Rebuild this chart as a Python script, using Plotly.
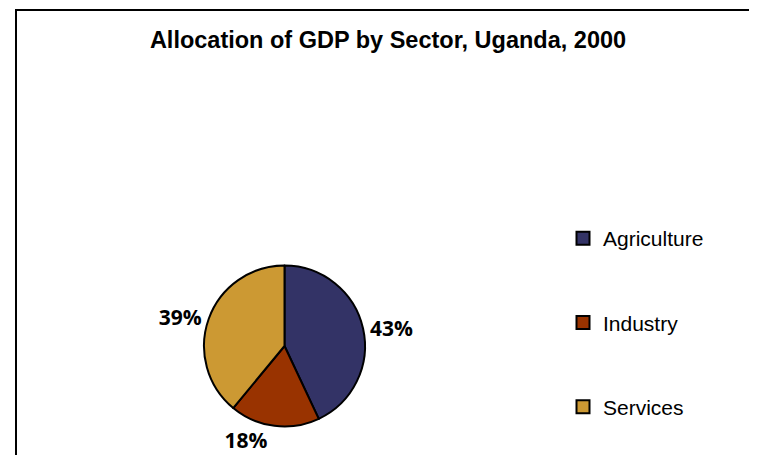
import plotly.graph_objects as go

categories = ["Agriculture", "Industry", "Services"]
shares = [43, 18, 39]
colors = ["#333366", "#993300", "#CC9933"]
title_text = "Allocation of GDP by Sector, Uganda, 2000"

W, H = 757, 455
OFF = 8  # page body margin offset
cx, cy, r = 284.5 - OFF, 346.0 - OFF, 80.5

fig = go.Figure()
fig.add_trace(go.Pie(
    labels=categories,
    values=shares,
    sort=False,
    direction="clockwise",
    rotation=0,
    marker=dict(colors=colors, line=dict(color="black", width=2)),
    textinfo="percent",
    textposition="outside",
    outsidetextfont=dict(family="Open Sans", size=21, color="black", weight="bold"),
    showlegend=False,
    domain=dict(x=[(cx - r) / W, (cx + r) / W], y=[(H - cy - r) / H, (H - cy + r) / H]),
    automargin=False,
    hoverinfo="skip",
))

for i, (name, col) in enumerate(zip(categories, colors)):
    fig.add_trace(go.Scatter(
        x=[None], y=[None], mode="markers", name=name,
        marker=dict(symbol="square", size=13, color=col, line=dict(color="black", width=2)),
        legendgroup=f"g{i}", showlegend=True,
    ))

fig.add_shape(type="rect", xref="paper", yref="paper",
              x0=(16 - OFF) / W, x1=1.05, y0=-0.1, y1=1 - (10 - OFF) / H,
              line=dict(color="black", width=2), fillcolor="rgba(0,0,0,0)")

fig.update_layout(
    width=W, height=H,
    margin=dict(l=0, r=0, t=0, b=0),
    paper_bgcolor="white", plot_bgcolor="white",
    title=dict(text=title_text, x=(388 - OFF) / W, xanchor="center", y=1 - (40 - OFF) / H, yanchor="middle",
               font=dict(family="Liberation Sans, Arial", size=23.5, color="black", weight="bold")),
    xaxis=dict(visible=False), yaxis=dict(visible=False),
    legend=dict(x=(563 - OFF) / W, xanchor="left", y=1 - (218 - OFF) / H, yanchor="top",
                font=dict(family="Liberation Sans, Arial", size=21, color="black"),
                tracegroupgap=54, bgcolor="rgba(0,0,0,0)"),
)

fig.write_html("out.html")
